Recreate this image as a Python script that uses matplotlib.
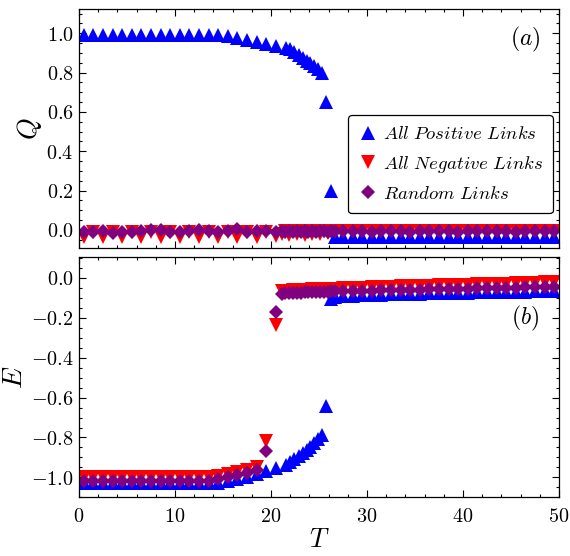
import matplotlib
matplotlib.use("Agg")
import matplotlib.pyplot as plt
from matplotlib.ticker import AutoMinorLocator, FuncFormatter, MultipleLocator

plt.rcParams["mathtext.fontset"] = "cm"
plt.rcParams["font.family"] = "serif"
plt.rcParams["font.serif"] = ["DejaVu Serif"]

# temperatures
t_pos = [0.5, 1.5, 2.5, 3.5, 4.5, 5.5, 6.5, 7.5, 8.5, 9.5, 10.5, 11.5, 12.5, 13.5, 14.5,
         15.5, 16.5, 17.5, 18.5, 19.5, 20.5,
         21.6, 22.0, 22.4, 22.9, 23.3, 23.7, 24.1, 24.5, 24.9, 25.3,
         25.7, 26.2, 26.7,
         27.5, 28.5, 29.5, 30.5, 31.5, 32.5, 33.5, 34.5, 35.5, 36.5, 37.5, 38.5,
         39.5, 40.5, 41.5, 42.5, 43.5, 44.5, 45.5, 46.5, 47.5, 48.5, 49.5]
t_oth = [0.5, 1.5, 2.5, 3.5, 4.5, 5.5, 6.5, 7.5, 8.5, 9.5, 10.5, 11.5, 12.5, 13.5, 14.5,
         15.5, 16.5, 17.5, 18.5, 19.5, 20.5,
         21.1, 21.5, 21.9, 22.3, 22.7, 23.1, 23.5, 23.9, 24.3, 24.7, 25.1, 25.5, 25.9,
         26.3, 26.7,
         27.5, 28.5, 29.5, 30.5, 31.5, 32.5, 33.5, 34.5, 35.5, 36.5, 37.5, 38.5,
         39.5, 40.5, 41.5, 42.5, 43.5, 44.5, 45.5, 46.5, 47.5, 48.5, 49.5]

# order parameter Q
q_pos = [0.99, 0.99, 0.99, 0.99, 0.99, 0.99, 0.99, 0.99, 0.99, 0.99, 0.99, 0.99, 0.99, 0.99, 0.99,
         0.985, 0.978, 0.968, 0.958, 0.946, 0.935,
         0.925, 0.918, 0.905, 0.89, 0.875, 0.86, 0.85, 0.835, 0.82, 0.80,
         0.65, 0.20, -0.035,
         -0.035, -0.035, -0.036, -0.035, -0.035, -0.036, -0.035, -0.035, -0.035, -0.036, -0.035, -0.035,
         -0.035, -0.036, -0.035, -0.035, -0.035, -0.036, -0.035, -0.035, -0.035, -0.036, -0.035]
q_neg = [-0.035, -0.01, -0.035, -0.01, -0.035, -0.01, -0.035, -0.01, -0.035, -0.01, -0.035, -0.01,
         -0.035, -0.01, -0.035, -0.01, -0.035, -0.01, -0.035, -0.01, -0.03,
         -0.02, -0.005, -0.025, -0.005, -0.02, -0.005, -0.025, -0.005, -0.02, -0.005, -0.02, -0.005,
         -0.015, -0.005, -0.005,
         -0.005, -0.005, -0.005, -0.005, -0.005, -0.005, -0.005, -0.005, -0.005, -0.005, -0.005, -0.005,
         -0.005, -0.005, -0.005, -0.005, -0.005, -0.005, -0.005, -0.005, -0.005, -0.005, -0.005]
q_rnd = [-0.012, -0.01, -0.005, -0.015, -0.01, -0.012, -0.008, 0.0, -0.002, -0.012, -0.01, -0.008,
         0.0, -0.005, -0.01, -0.005, 0.002, -0.01, -0.008, -0.005, -0.01,
         -0.005, -0.01, -0.006, -0.01, -0.008, -0.01, -0.007, -0.01, -0.008, -0.01, -0.008, -0.008,
         -0.01, -0.008, -0.008,
         -0.008, -0.006, -0.008, -0.009, -0.008, -0.007, -0.008, -0.009, -0.008, -0.008, -0.007, -0.008,
         -0.009, -0.008, -0.008, -0.007, -0.008, -0.008, -0.009, -0.008, -0.008, -0.007, -0.008]

# energy E
e_pos = [-1.03, -1.03, -1.03, -1.03, -1.03, -1.03, -1.03, -1.03, -1.03, -1.03, -1.03, -1.03, -1.03, -1.03,
         -1.027, -1.02, -1.01, -1.0, -0.985, -0.97, -0.955,
         -0.94, -0.925, -0.91, -0.895, -0.88, -0.865, -0.85, -0.83, -0.81, -0.79,
         -0.64, -0.105, -0.095,
         -0.09, -0.088, -0.086, -0.085, -0.083, -0.082, -0.08, -0.079, -0.078, -0.077, -0.076, -0.075,
         -0.074, -0.073, -0.072, -0.071, -0.07, -0.069, -0.068, -0.068, -0.067, -0.066, -0.065]
e_neg = [-1.0, -1.0, -1.0, -1.0, -1.0, -1.0, -1.0, -1.0, -1.0, -1.0, -1.0, -1.0, -1.0,
         -0.998, -0.993, -0.985, -0.975, -0.962, -0.95, -0.82, -0.235,
         -0.065, -0.064, -0.063, -0.062, -0.061, -0.06, -0.059, -0.058, -0.057, -0.056, -0.056, -0.055,
         -0.055, -0.054, -0.054,
         -0.052, -0.05, -0.048, -0.046, -0.045, -0.044, -0.042, -0.041, -0.04, -0.038, -0.037, -0.036,
         -0.035, -0.033, -0.032, -0.031, -0.03, -0.028, -0.027, -0.026, -0.024, -0.022, -0.02]
e_rnd = [-1.02, -1.02, -1.02, -1.02, -1.02, -1.02, -1.02, -1.02, -1.02, -1.02, -1.02, -1.02, -1.02,
         -1.018, -1.01, -1.0, -0.99, -0.978, -0.965, -0.87, -0.17,
         -0.078, -0.077, -0.076, -0.075, -0.074, -0.073, -0.072, -0.071, -0.07, -0.07, -0.069, -0.068,
         -0.068, -0.067, -0.067,
         -0.066, -0.065, -0.064, -0.063, -0.062, -0.061, -0.06, -0.059, -0.058, -0.057, -0.056, -0.055,
         -0.054, -0.053, -0.052, -0.051, -0.05, -0.049, -0.048, -0.047, -0.046, -0.045, -0.044]

labels = [r"$All\ Positive\ Links$", r"$All\ Negative\ Links$", r"$Random\ Links$"]

fig = plt.figure(figsize=(5.7, 5.56), dpi=100)
ax1 = fig.add_axes([0.1386, 0.554, 0.8421, 0.4293])
ax2 = fig.add_axes([0.1386, 0.1056, 0.8421, 0.4317])

def style(ax):
    ax.set_xlim(0, 50)
    ax.xaxis.set_major_locator(MultipleLocator(10))
    ax.xaxis.set_minor_locator(AutoMinorLocator(5))
    ax.yaxis.set_major_locator(MultipleLocator(0.2))
    ax.yaxis.set_minor_locator(AutoMinorLocator(4))
    ax.tick_params(which="both", direction="in", top=True, right=True, labelsize=14.5, width=0.8)
    ax.tick_params(which="major", length=5)
    ax.tick_params(which="minor", length=2.5)
    ax.tick_params(axis="x", pad=7)
    ax.tick_params(axis="y", pad=4)
    ax.yaxis.set_major_formatter(FuncFormatter(lambda v, _: f"${v + 0.0:.1f}$"))
    for s in ax.spines.values():
        s.set_linewidth(0.9)

for ax, ys, lim in [(ax1, (q_pos, q_neg, q_rnd), (-0.092, 1.122)),
                    (ax2, (e_pos, e_neg, e_rnd), (-1.1, 0.104))]:
    ax.plot(t_pos, ys[0], ls="none", marker="^", ms=10.5, color="blue", mew=0, label=labels[0])
    ax.plot(t_oth, ys[1], ls="none", marker="v", ms=10.5, color="red", mew=0, label=labels[1])
    ax.plot(t_oth, ys[2], ls="none", marker="D", ms=7, color="purple", mew=0, label=labels[2])
    ax.set_ylim(*lim)
    style(ax)

ax1.tick_params(labelbottom=False)
ax2.xaxis.set_major_formatter(FuncFormatter(lambda v, _: f"${v:.0f}$"))

ax1.set_ylabel(r"$Q$", fontsize=20, labelpad=2)
ax2.set_ylabel(r"$E$", fontsize=20, labelpad=2)
ax2.set_xlabel(r"$T$", fontsize=19, labelpad=1)

ax1.text(0.93, 0.875, r"$(a)$", transform=ax1.transAxes, fontsize=17, ha="center", va="center")
ax2.text(0.93, 0.745, r"$(b)$", transform=ax2.transAxes, fontsize=17, ha="center", va="center")

leg = ax1.legend(loc="upper right", bbox_to_anchor=(0.9875, 0.557), borderaxespad=0,
                 fontsize=13.5, frameon=True, fancybox=True, framealpha=1, edgecolor="black",
                 handletextpad=0.3, handlelength=1.0, labelspacing=0.55, borderpad=0.55)
leg.get_frame().set_linewidth(0.9)

fig.savefig("out.png", dpi=100)
